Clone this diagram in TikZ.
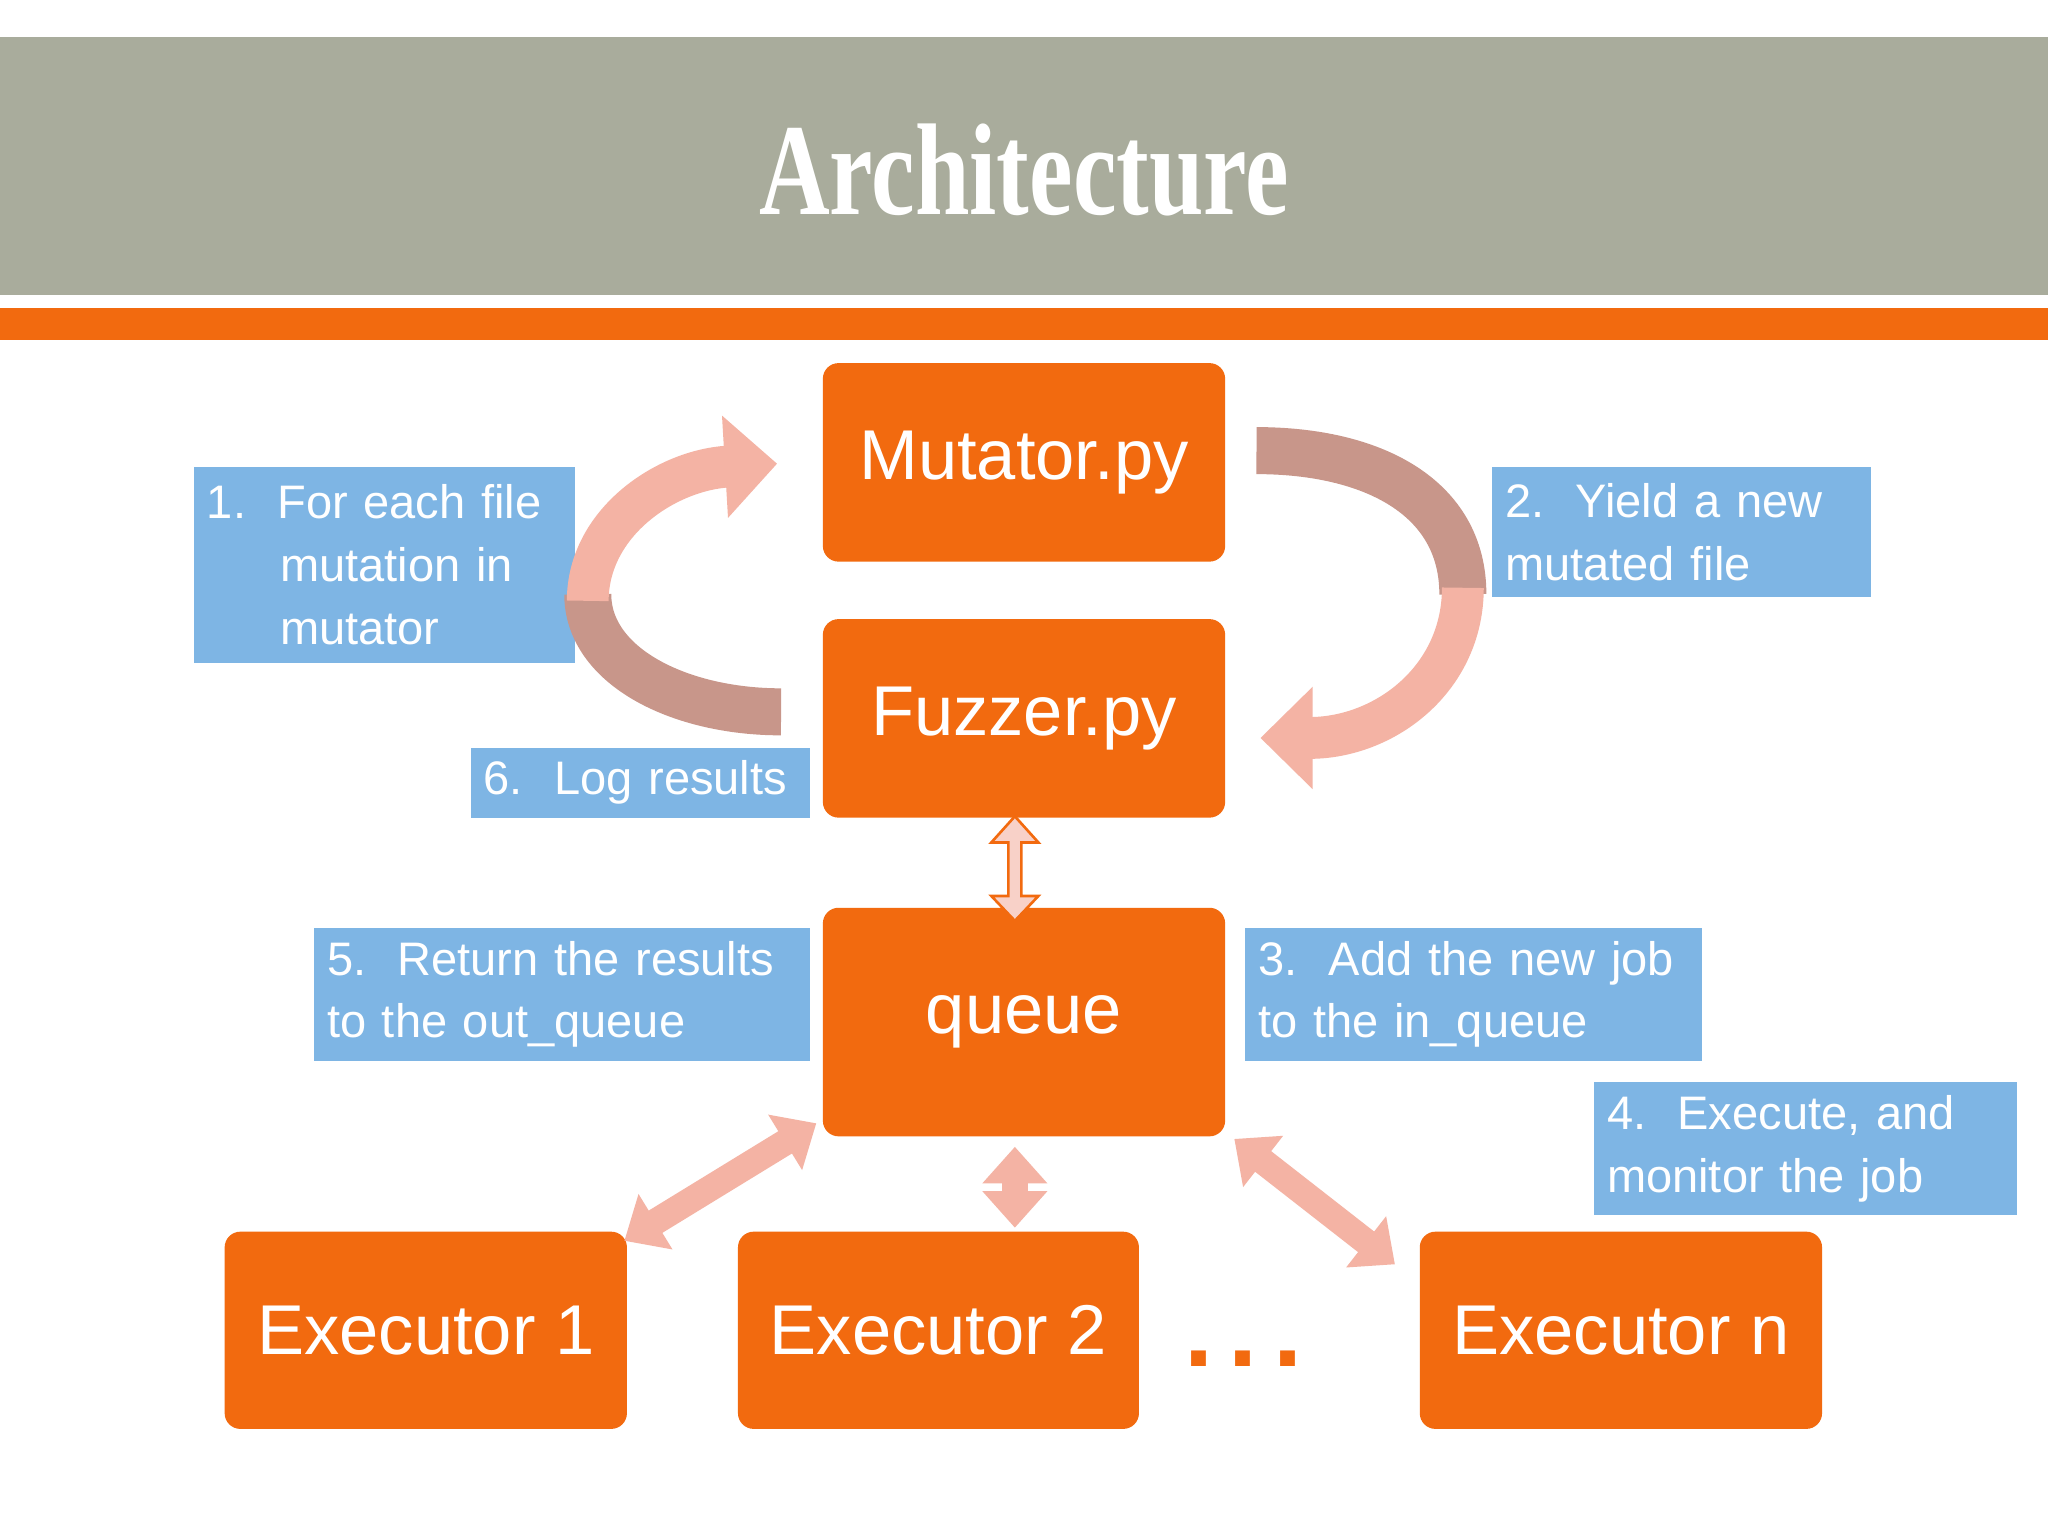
\documentclass[tikz,border=0pt]{standalone}
\usepackage{fontspec}
\setmainfont{Liberation Sans}
\newfontfamily\titlefont{Liberation Serif}
\usetikzlibrary{arrows.meta}
\definecolor{grey}{HTML}{A9AC9C}
\definecolor{org}{HTML}{F26A0F}
\definecolor{lbl}{HTML}{7EB5E4}
\definecolor{pink}{HTML}{F4B3A4}
\definecolor{dpink}{HTML}{C8968A}
\begin{document}
\begin{tikzpicture}[x=0.5pt,y=-0.5pt,
 box/.style={fill=org,rounded corners=6pt,text=white,font=\fontsize{27}{30}\selectfont},
 lab/.style={fill=lbl,text=white,font=\fontsize{18}{24}\selectfont,align=left,anchor=north west,inner sep=5pt,text width=#1},
 parr/.style={draw=pink,line width=10pt,{Triangle[length=14pt,width=24pt]}-{Triangle[length=14pt,width=24pt]}}]
\useasboundingbox (0,0) rectangle (1568,1176);
\fill[white] (0,0) rectangle (1568,1176);
\fill[grey] (0,28) rectangle (1568,226);
\fill[org] (0,236) rectangle (1568,260);
\node[text=white,font=\titlefont\fontsize{50}{50}\selectfont\bfseries,xscale=0.75] (title) at (784,130) {Architecture};
\def\bx#1#2#3#4#5#6{\node[box,minimum width={(#4-#2)*0.5pt},minimum height={(#5-#3)*0.5pt}] (#1) at ({(#2+#4)/2},{(#3+#5)/2}) {#6};}
\bx{mut}{630}{278}{938}{430}{Mutator.py}
\bx{fuz}{630}{474}{938}{626}{Fuzzer.py}
\bx{q}{630}{695}{938}{870}{\raisebox{-5pt}{queue}}
\bx{e1}{172}{943}{480}{1094}{Executor 1}
\bx{e2}{565}{943}{872}{1094}{Executor 2}
\bx{en}{1087}{943}{1395}{1094}{Executor n}
\node[text=org,font=\fontsize{40}{40}\selectfont\bfseries] (dots) at (952,1040) {.\hspace{6pt}.\hspace{6pt}.};
\node[lab=136pt,minimum height=75pt] (l1) at (148,357) {1.\ \ For each file\\\hspace*{28pt}mutation in\\\hspace*{28pt}mutator};
\node[lab=135pt,minimum height=50pt] (l2) at (1142,357) {2.\ \ Yield a new\\mutated file};
\node[lab=120pt] (l6) at (360,572) {6.\ \ Log results};
\node[lab=180pt,minimum height=50pt] (l5) at (240,710) {5.\ \ Return the results\\to the out\_queue};
\node[lab=165pt,minimum height=50pt] (l3) at (953,710) {3.\ \ Add the new job\\to the in\_queue};
\node[lab=152pt,minimum height=51pt] (l4) at (1220,828) {4.\ \ Execute, and\\monitor the job};
% curved arrows
\coordinate (a1) at (598,545); \coordinate (a2) at (595,355);
\draw[dpink,line width=18pt] (a1) .. controls (520,545) and (450,510) .. (450,455);
\draw[pink,line width=16pt,-{Triangle[length=20pt,width=38pt]}] (450,460) .. controls (450,400) and (510,360) .. (a2);
\coordinate (b1) at (962,345); \coordinate (b2) at (965,565);
\draw[dpink,line width=18pt] (b1) .. controls (1050,345) and (1120,380) .. (1120,455);
\draw[pink,line width=16pt,-{Triangle[length=20pt,width=38pt]}] (1120,450) .. controls (1120,520) and (1060,565) .. (b2);
\draw[draw=org,fill=pink!60,line width=1pt] (759,645) -- (772,645) -- (772,686) -- (759,686) -- (777,705) -- (795,686) -- (782,686) -- (782,645) -- (795,645) -- (777,625) -- cycle;
\draw[parr] (625,860) -- (478,950);
\draw[parr] (777,878) -- (777,940);
\draw[parr] (945,872) -- (1068,968);
\end{tikzpicture}
\end{document}
